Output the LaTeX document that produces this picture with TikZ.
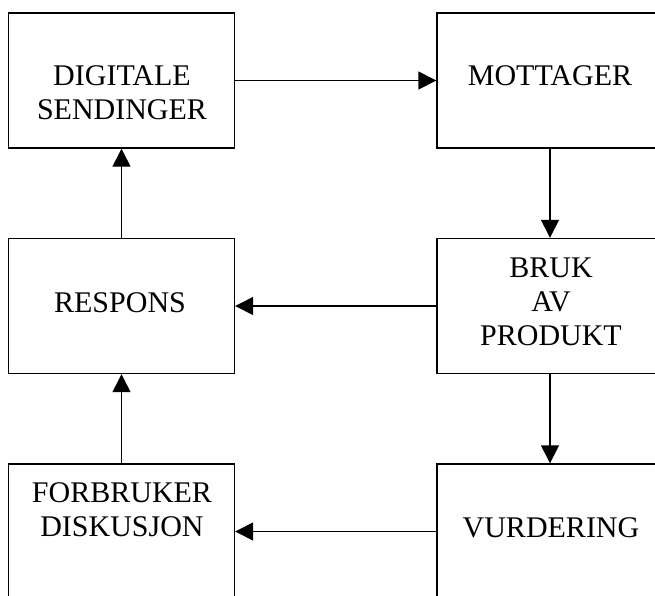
\documentclass[tikz,border=0pt]{standalone}
\usepackage{fontspec}
\setmainfont{Liberation Serif}
\usetikzlibrary{arrows.meta}
\begin{document}
\begin{tikzpicture}[x=1pt,y=-1pt,
  box/.style={draw,line width=1.4pt,minimum width=226pt,minimum height=135pt,inner sep=0pt},
  txt/.style={anchor=base,align=center,inner sep=0pt,font=\fontsize{30}{34}\selectfont},
  conn/.style={line width=1.4pt,-{Triangle[length=18pt,width=18pt]}}]
\useasboundingbox (0,0) rectangle (655,595);
\clip (0,0) rectangle (655,595);
\node[box] (b1) at (121.5,80.5) {};
\node[box] (b2) at (550,80.5) {};
\node[box] (b3) at (121.5,306) {};
\node[box] (b4) at (550,306) {};
\node[box] (b5) at (121.5,531.5) {};
\node[box] (b6) at (550,531.5) {};
\node[txt] (t1) at (122,119) {DIGITALE\\SENDINGER};
\node[txt] (t2) at (550,85) {MOTTAGER};
\node[txt] (t3) at (120,312) {RESPONS};
\node[txt] (t4) at (551,345) {BRUK\\AV\\PRODUKT};
\node[txt] (t5) at (122,536.7) {FORBRUKER\\DISKUSJON};
\node[txt] (t6) at (551,537) {VURDERING};
\draw[conn] (b1.east) -- (b2.west);
\draw[conn] (b2.south) -- (b4.north);
\draw[conn] (b4.west) -- (b3.east);
\draw[conn] (b4.south) -- (b6.north);
\draw[conn] (b6.west) -- (b5.east);
\draw[conn] (b5.north) -- (b3.south);
\draw[conn] (b3.north) -- (b1.south);
\end{tikzpicture}
\end{document}
